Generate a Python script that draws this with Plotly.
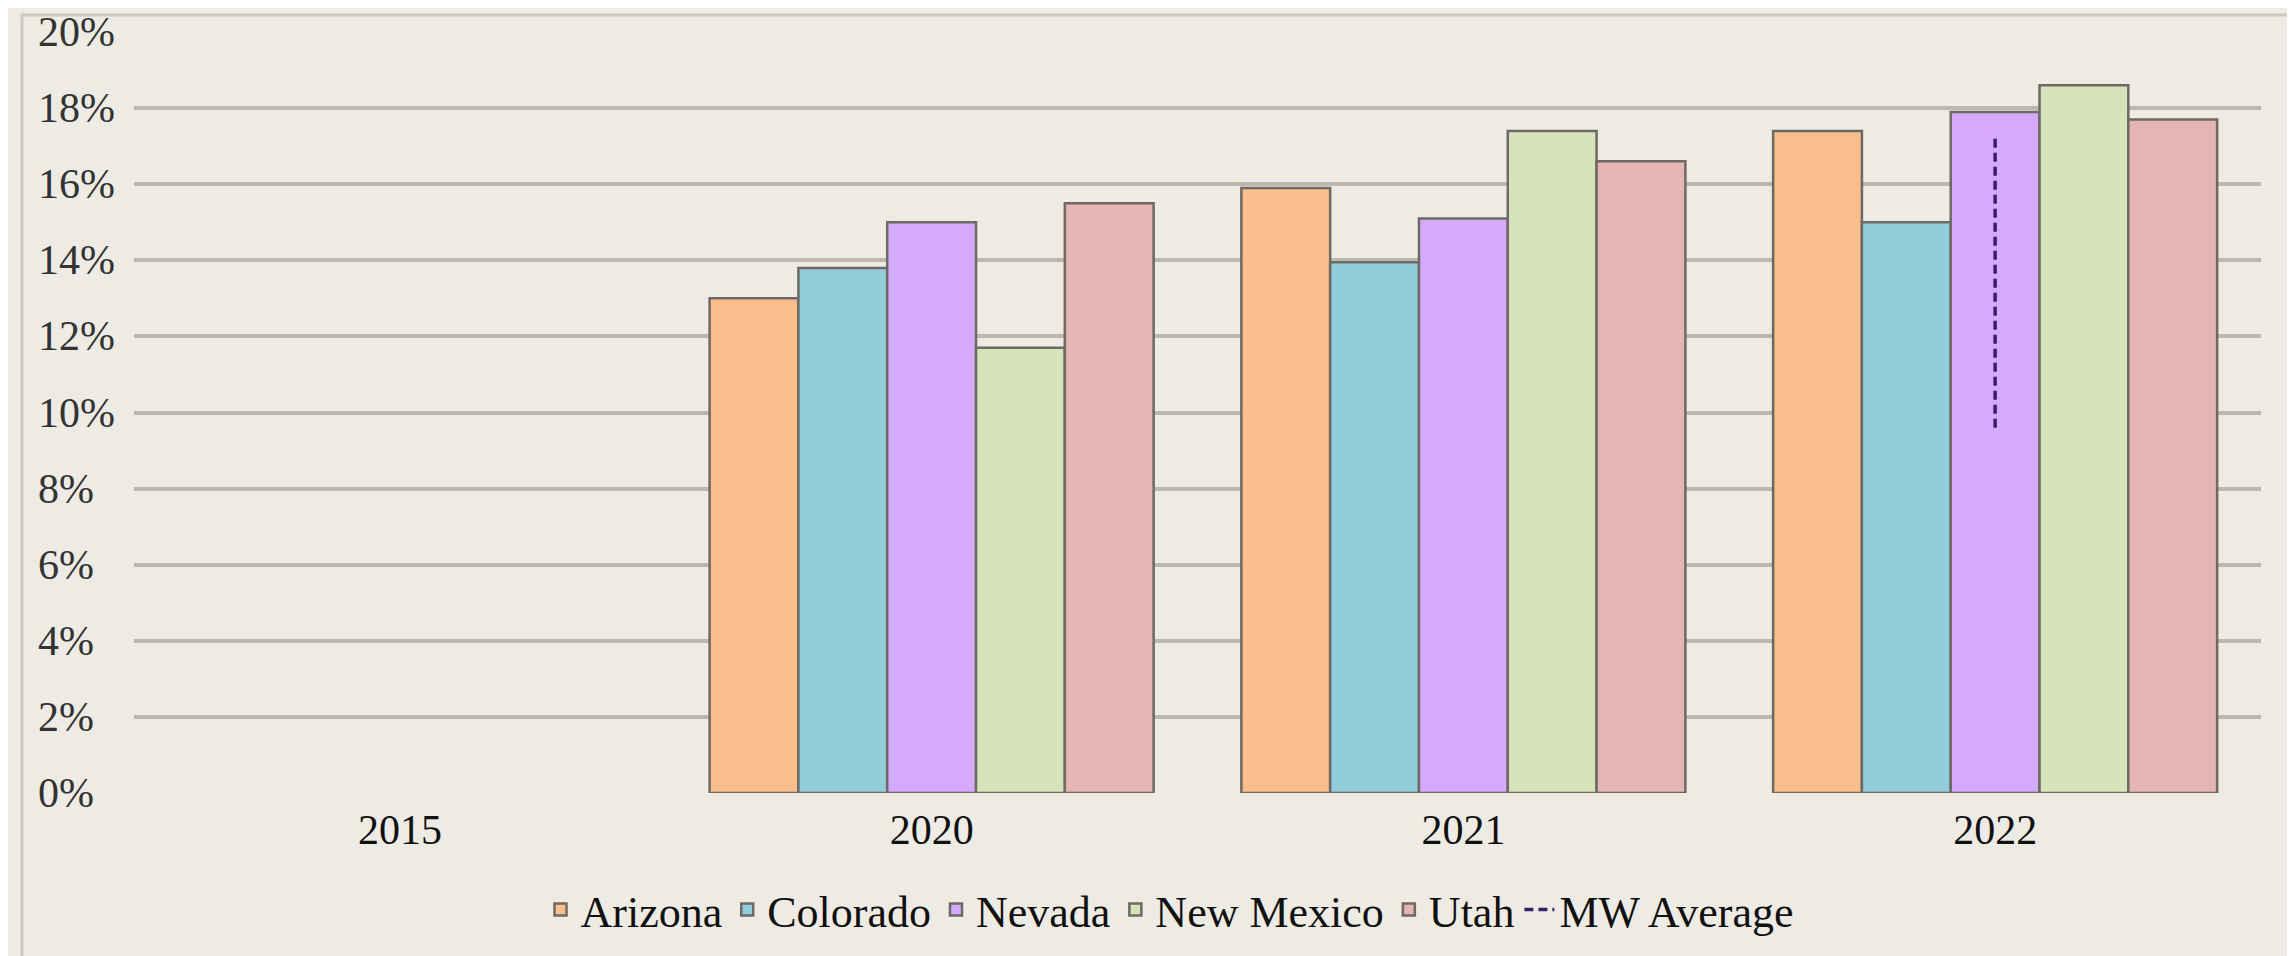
import plotly.graph_objects as go

years = ["2015", "2020", "2021", "2022"]
states = ["Arizona", "Colorado", "Nevada", "New Mexico", "Utah"]
arizona = [None, 13.0, 15.9, 17.4]
colorado = [None, 13.8, 13.95, 15.0]
nevada = [None, 15.0, 15.1, 17.9]
new_mexico = [None, 11.7, 17.4, 18.6]
utah = [None, 15.5, 16.6, 17.7]
mw_avg_x = ["2022", "2022"]
mw_avg_y = [9.6, 17.3]
y_ticks = [0, 2, 4, 6, 8, 10, 12, 14, 16, 18, 20]
y_tick_labels = [f"{v}%" for v in y_ticks]

series = [arizona, colorado, nevada, new_mexico, utah]
colors = ["#F8BF8C", "#92CDDC", "#D5A9FB", "#D6E3BB", "#E5B4B4"]

W, H = 2295, 956
L, R, T, B = 126, 42, 24, 171
pw, ph = W - L - R, H - T - B

def px_x(x):
    return (x - L) / pw

def px_y(y):
    return (T + ph - y) / ph

BG = "#EEEBE4"
FONT = "Liberation Serif"
FS = 42

fig = go.Figure()
for name, vals, col in zip(states, series, colors):
    fig.add_trace(go.Bar(
        x=years, y=vals, name=name,
        marker=dict(color=col, line=dict(color="#6E6A63", width=2.5)),
    ))

fig.add_trace(go.Scatter(
    x=mw_avg_x, y=mw_avg_y, name="MW Average", mode="lines",
    line=dict(color="#3A1E6A", width=3.5, dash="9px,5px"),
))

annotations = []
for v, lab in zip(y_ticks, y_tick_labels):
    annotations.append(dict(
        x=0, xref="paper", xshift=-98, xanchor="left",
        y=v, yref="y", yanchor="middle",
        text=lab, showarrow=False,
        font=dict(family=FONT, size=FS, color="#333333"),
    ))

fig.update_layout(
    width=W, height=H,
    margin=dict(l=L, r=R, t=T, b=B),
    paper_bgcolor=BG, plot_bgcolor=BG,
    barmode="group", bargap=0.165, bargroupgap=0,
    font=dict(family=FONT, size=FS, color="#111111"),
    showlegend=True,
    legend=dict(
        orientation="h", x=px_x(1162), xanchor="center",
        y=-117 / ph, yanchor="middle",
        font=dict(family=FONT, size=44, color="#111111"),
        bgcolor="rgba(0,0,0,0)", itemwidth=30,
        traceorder="normal",
    ),
    xaxis=dict(
        type="category", categoryorder="array", categoryarray=years,
        showgrid=False, zeroline=False, showline=False, ticks="",
        ticklabelstandoff=8,
        tickfont=dict(family=FONT, size=FS, color="#111111"),
    ),
    yaxis=dict(
        range=[0, 20], tickvals=y_ticks, showticklabels=False,
        showgrid=True, gridcolor="#BAB8B0", gridwidth=3.5,
        zeroline=False, showline=False, ticks="",
    ),
    annotations=annotations,
    shapes=[dict(
        type="rect", xref="paper", yref="paper",
        x0=px_x(14), x1=px_x(2285),
        y0=px_y(953), y1=px_y(7),
        line=dict(color="#CBC9C1", width=3), fillcolor="rgba(0,0,0,0)",
        layer="below",
    )],
)

fig.write_html("out.html")
